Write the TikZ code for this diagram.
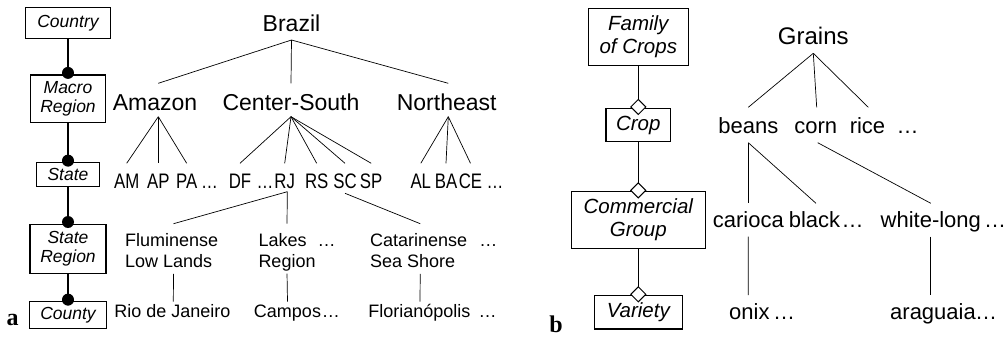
\documentclass[tikz,border=0pt]{standalone}
\usepackage{fontspec}
\setmainfont{Liberation Sans}
\newfontfamily\condfont[FakeStretch=0.8]{Liberation Sans}
\newfontfamily\labfont{Liberation Serif}
\tikzset{
  box/.style={draw, line width=1.1pt, inner sep=0pt, align=center,
    font=\fontsize{17.5}{19.3}\selectfont\itshape},
  boxb/.style={box, font=\fontsize{20.5}{23.3}\selectfont\itshape},
  big/.style={inner sep=0pt, anchor=base, font=\fontsize{23}{27}\selectfont},
  st/.style={inner sep=0pt, anchor=base, font=\condfont\fontsize{21}{25}\selectfont},
  sm/.style={inner sep=0pt, align=left, font=\fontsize{18}{20.6}\selectfont},
  tb/.style={inner sep=0pt, anchor=base, font=\fontsize{22}{26}\selectfont},
  tline/.style={line width=0.7pt},
  hlink/.style={line width=1.6pt},
  dmd/.style={fill=white, draw, line width=1pt},
  plabel/.style={inner sep=0pt, anchor=base, font=\labfont\bfseries\fontsize{24}{28}\selectfont}
}
\begin{document}
\begin{tikzpicture}[x=1pt,y=-1pt]
\fill[white] (0,0) rectangle (1005,340);
\useasboundingbox (0,0) rectangle (1005,340);

% ---------- panel a: schema ----------
\node[box, minimum width=85pt, minimum height=31pt] (country) at (68,22.8) {Country};
\node[box, minimum width=75pt, minimum height=47.7pt] (macro) at (68,98.8) {Macro\\Region};
\node[box, minimum width=62.6pt, minimum height=24pt] (state) at (68,174.7) {State};
\node[box, minimum width=76pt, minimum height=49.3pt] (sreg) at (68,248.7) {State\\Region};
\node[box, minimum width=77.4pt, minimum height=26.6pt] (county) at (68,315) {County};
\draw[hlink] (country) -- (macro);
\draw[hlink] (macro) -- (state);
\draw[hlink] (state) -- (sreg);
\draw[hlink] (sreg) -- (county);
\fill ([yshift=1.5pt]macro.north) circle[radius=6pt];
\fill ([yshift=1.5pt]state.north) circle[radius=6pt];
\fill ([yshift=1.5pt]sreg.north) circle[radius=6pt];
\fill ([yshift=1.5pt]county.north) circle[radius=6pt];
\node[plabel] (la) at (12.5,325) {a};

% ---------- panel a: tree ----------
\node[big] (brazil) at (291.5,31.7) {Brazil};
\node[big] (amazon) at (155,110) {Amazon};
\node[big] (cs) at (291,110) {Center-South};
\node[big] (ne) at (446.7,110) {Northeast};

\node[st] (am) at (126.7,188.3) {AM};
\node[st] (ap) at (158.3,188.3) {AP};
\node[st] (pa) at (186.7,188.3) {PA};
\node[st] (d1) at (209.5,188.3) {…};
\node[st] (df) at (240,188.3) {DF};
\node[st] (d2) at (265,188.3) {…};
\node[st] (rj) at (284.7,188.3) {RJ};
\node[st] (rs) at (316.7,188.3) {RS};
\node[st] (sc) at (345,188.3) {SC};
\node[st] (sp) at (371.2,188.3) {SP};
\node[st] (al) at (420.8,188.3) {AL};
\node[st] (ba) at (446,188.3) {BA};
\node[st] (ce) at (470.5,188.3) {CE};
\node[st] (d3) at (495,188.3) {…};

\node[sm, anchor=north west] (flu) at (125,233.7) {Fluminense\\Low Lands};
\node[sm, anchor=north west] (lak) at (258.3,233.7) {Lakes\\Region};
\node[sm, anchor=base] (lakd) at (326.7,246.7) {…};
\node[sm, anchor=north west] (cat) at (370,233.7) {Catarinense\\Sea Shore};
\node[sm, anchor=base] (catd) at (488.3,246.7) {…};

\node[sm, anchor=base] (rio) at (172.5,317.3) {Rio de Janeiro};
\node[sm, anchor=base] (campos) at (287.5,317.3) {Campos};
\node[sm, anchor=base] (campd) at (330.8,317.3) {…};
\node[sm, anchor=base] (flo) at (419.3,317.3) {Florianópolis};
\node[sm, anchor=base] (flod) at (487.5,317.3) {…};

\draw[tline] ([yshift=-8.3pt]brazil.base) -- ([xshift=3.3pt,yshift=26.7pt]amazon.base);
\draw[tline] ([yshift=-8.3pt]brazil.base) -- ([yshift=26.7pt]cs.base);
\draw[tline] ([yshift=-8.3pt]brazil.base) -- ([xshift=1.6pt,yshift=26.7pt]ne.base);

\foreach \c in {am,ap,pa}
  \draw[tline] ([xshift=3.3pt,yshift=-6.7pt]amazon.base) -- ([yshift=25pt]\c.base);
\foreach \c in {df,rj,rs,sc,sp}
  \draw[tline] ([yshift=-6.7pt]cs.base) -- ([yshift=25pt]\c.base);
\foreach \c in {al,ba,ce}
  \draw[tline] ([xshift=1.6pt,yshift=-6.7pt]ne.base) -- ([yshift=25pt]\c.base);

\draw[tline] ([xshift=2.6pt,yshift=-3.4pt]rj.base) -- ([xshift=1.8pt,yshift=10pt]flu.north);
\draw[tline] ([xshift=2.6pt,yshift=-3.4pt]rj.base) -- ([yshift=10pt]lak.north);
\draw[tline] ([yshift=-5pt]sc.base) -- ([xshift=1.5pt,yshift=10pt]cat.north);

\draw[tline] ([xshift=1.8pt,yshift=-6pt]flu.south) -- ([xshift=0.8pt,yshift=15.6pt]rio.base);
\draw[tline] ([yshift=-2.2pt]lak.south) -- ([yshift=15.6pt]campos.base);
\draw[tline] ([xshift=1.5pt,yshift=-6pt]cat.south) -- ([xshift=0.7pt,yshift=15.6pt]flo.base);

% ---------- panel b: schema ----------
\node[boxb, minimum width=100pt, minimum height=56.7pt] (family) at (638.3,36.7) {Family\\of Crops};
\node[boxb, minimum width=64.7pt, minimum height=33.4pt] (crop) at (638.3,125) {Crop};
\node[boxb, minimum width=134.3pt, minimum height=56.6pt] (comm) at (638.3,220) {Commercial\\Group};
\node[boxb, minimum width=88.3pt, minimum height=33.3pt] (variety) at (638.3,312.3) {Variety};
\draw[hlink] (family) -- (crop);
\draw[hlink] (crop) -- (comm);
\draw[hlink] (comm) -- (variety);
\foreach \b in {crop,comm,variety}
  \draw[dmd] ([yshift=0.8pt]\b.north) +(0,-7.5) -- +(7.5,0) -- +(0,7.5) -- +(-7.5,0) -- cycle;
\node[plabel] (lb) at (556,332.5) {b};

% ---------- panel b: tree ----------
\node[tb, font=\fontsize{24}{28}\selectfont] (grains) at (813.3,44.3) {Grains};
\node[tb] (beans) at (748.3,133.3) {beans};
\node[tb] (corn) at (815.8,133.3) {corn};
\node[tb] (rice) at (867.5,133.3) {rice};
\node[tb] (d4) at (907.5,133.3) {…};
\node[tb] (carioca) at (748.3,227.7) {carioca};
\node[tb] (black) at (814.5,227.7) {black};
\node[tb] (d5) at (852.5,227.7) {…};
\node[tb] (white) at (930.8,227.7) {white-long};
\node[tb] (d6) at (995,227.7) {…};
\node[tb] (onix) at (749.4,319.3) {onix};
\node[tb] (d7) at (784,319.3) {…};
\node[tb] (ara) at (933,319.3) {araguaia};
\node[tb] (d8) at (986,319.3) {…};

\draw[tline] ([yshift=-9pt]grains.base) -- ([yshift=26pt]beans.base);
\draw[tline] ([yshift=-9pt]grains.base) -- ([xshift=0.9pt,yshift=26pt]corn.base);
\draw[tline] ([yshift=-9pt]grains.base) -- ([xshift=0.8pt,yshift=26pt]rice.base);
\draw[tline] ([yshift=-9.4pt]beans.base) -- ([yshift=24.4pt]carioca.base);
\draw[tline] ([yshift=-9.4pt]beans.base) -- ([xshift=1.5pt,yshift=24.4pt]black.base);
\draw[tline] ([xshift=1.9pt,yshift=-9.4pt]corn.base) -- ([yshift=24.4pt]white.base);
\draw[tline] ([yshift=-9pt]carioca.base) -- ([xshift=-1.1pt,yshift=24.3pt]onix.base);
\draw[tline] ([yshift=-9pt]white.base) -- ([xshift=-2.2pt,yshift=24.3pt]ara.base);
\end{tikzpicture}
\end{document}
